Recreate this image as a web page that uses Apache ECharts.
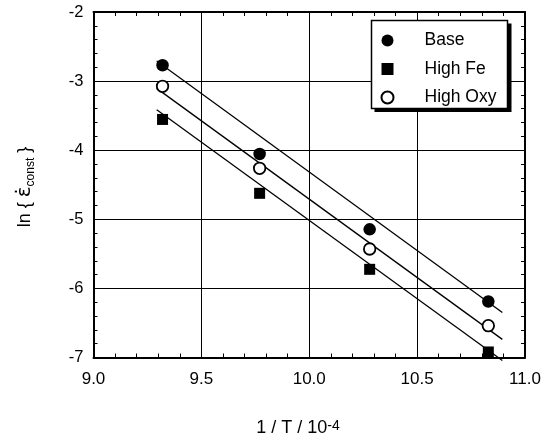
<!DOCTYPE html>
<html><head><meta charset="utf-8">
<script src="https://cdn.jsdelivr.net/npm/echarts@6/dist/echarts.min.js"></script>
<style>html,body{margin:0;padding:0;background:#fff}#c{width:553px;height:439px}</style>
</head><body><div id="c"></div>
<script>
// ---- data ----
const xTicks = [9.0, 9.5, 10.0, 10.5, 11.0];
const yTicks = [-7, -6, -5, -4, -3, -2];
const invT    = [9.32, 9.77, 10.28, 10.83];
const base    = [-2.77, -4.055, -5.145, -6.19];
const highFe  = [-3.555, -4.624, -5.724, -6.92];
const highOxy = [-3.075, -4.262, -5.43, -6.54];
// fitted lines (end points)
const fitX    = [9.293, 10.895];
const fitBase = [-2.709, -6.35];
const fitFe   = [-3.415, -7.044];
const fitOxy  = [-3.105, -6.738];
const seriesNames = ['Base', 'High Fe', 'High Oxy'];

const FONT = '"Liberation Sans", Arial, Helvetica, sans-serif';
const pts = (xs, ys) => xs.map((x, i) => [x, ys[i]]);

const chart = echarts.init(document.getElementById('c'), null, {renderer: 'canvas'});

const xCommon = {
  type: 'value', min: xTicks[0], max: xTicks[xTicks.length - 1], interval: xTicks[1] - xTicks[0],
  axisLine: {show: true, onZero: false, lineStyle: {color: '#000', width: 2}},
  axisTick: {show: true, inside: true, length: 5, lineStyle: {color: '#000', width: 1}},
  minorTick: {show: true, splitNumber: 5, length: 4, lineStyle: {color: '#000', width: 1}},
};
const yCommon = {
  type: 'value', min: yTicks[0], max: yTicks[yTicks.length - 1], interval: yTicks[1] - yTicks[0],
  axisLine: {show: true, onZero: false, lineStyle: {color: '#000', width: 2}},
  axisTick: {show: true, inside: true, length: 5, lineStyle: {color: '#000', width: 1}},
  minorTick: {show: true, splitNumber: 5, length: 4, lineStyle: {color: '#000', width: 1}},
};

const option = {
  animation: false,
  backgroundColor: '#fff',
  grid: {left: 93.5, right: 28, top: 12, bottom: 81.5, containLabel: false},
  xAxis: [
    Object.assign({}, xCommon, {
      position: 'bottom',
      splitLine: {show: true, lineStyle: {color: '#000', width: 1}},
      axisLabel: {show: true, margin: 13, color: '#000', fontSize: 17, fontFamily: FONT,
        formatter: v => v.toFixed(1)}
    }),
    Object.assign({}, xCommon, {
      position: 'top', splitLine: {show: false}, axisLabel: {show: false}
    })
  ],
  yAxis: [
    Object.assign({}, yCommon, {
      position: 'left',
      splitLine: {show: true, lineStyle: {color: '#000', width: 1}},
      axisLabel: {show: true, margin: 10, color: '#000', fontSize: 16.5, fontFamily: FONT,
        padding: [6, 0, 0, 0], formatter: v => String(v)}
    }),
    Object.assign({}, yCommon, {
      position: 'right', splitLine: {show: false}, axisLabel: {show: false}
    })
  ],
  legend: {
    data: seriesNames,
    orient: 'vertical',
    left: 380.5, top: 31.5, padding: 0,
    itemWidth: 12, itemHeight: 12, itemGap: 10.5,
    z: 100,
    selectedMode: false,
    textStyle: {color: '#000', fontSize: 17.5, fontFamily: FONT, lineHeight: 17, padding: [0, 0, 0, 26]}
  },
  graphic: [
    {type: 'rect', z: 50, shape: {x: 374.5, y: 23.5, width: 137, height: 88.5}, style: {fill: '#000'}},
    {type: 'rect', z: 51, shape: {x: 371.5, y: 20.5, width: 136, height: 88}, style: {fill: '#fff', stroke: '#000', lineWidth: 1.5}},
    {type: 'text', z: 60, x: 298, y: 428.5,
      style: {text: '1 / T / 10{sup|-4}', fill: '#000', font: '18px ' + FONT, align: 'center', verticalAlign: 'middle',
        rich: {sup: {fontSize: 14, fontFamily: FONT, fill: '#000', verticalAlign: 'top', lineHeight: 18}}}},
    {type: 'text', z: 60, x: 25, y: 187, rotation: Math.PI / 2,
      style: {text: 'ln { {e|\u03B5\u0307}{sub|const} }', fill: '#000', font: '18px ' + FONT, align: 'center', verticalAlign: 'middle',
        rich: {
          e: {fontSize: 20, fontFamily: '"DejaVu Sans", sans-serif', fill: '#000', lineHeight: 24, verticalAlign: 'middle'},
          sub: {fontSize: 12, fontFamily: FONT, fill: '#000', lineHeight: 11, verticalAlign: 'bottom'}
        }}}
  ],
  series: [
    {type: 'line', data: pts(fitX, fitBase), symbol: 'none', clip: false, silent: true, z: 2,
      lineStyle: {color: '#000', width: 1.3}},
    {type: 'line', data: pts(fitX, fitOxy), symbol: 'none', clip: false, silent: true, z: 2,
      lineStyle: {color: '#000', width: 1.3}},
    {type: 'line', data: pts(fitX, fitFe), symbol: 'none', clip: false, silent: true, z: 2,
      lineStyle: {color: '#000', width: 1.3}},
    {type: 'scatter', name: seriesNames[0], data: pts(invT, base), symbol: 'circle', symbolSize: 12.5, z: 5,
      itemStyle: {color: '#000', opacity: 1}},
    {type: 'scatter', name: seriesNames[1], data: pts(invT, highFe), symbol: 'rect', symbolSize: 11, z: 5,
      itemStyle: {color: '#000', opacity: 1}},
    {type: 'scatter', name: seriesNames[2], data: pts(invT, highOxy), symbol: 'circle', symbolSize: 11.5, z: 5,
      itemStyle: {color: '#fff', borderColor: '#000', borderWidth: 1.8, opacity: 1}}
  ]
};
chart.setOption(option);
</script>
</body></html>
